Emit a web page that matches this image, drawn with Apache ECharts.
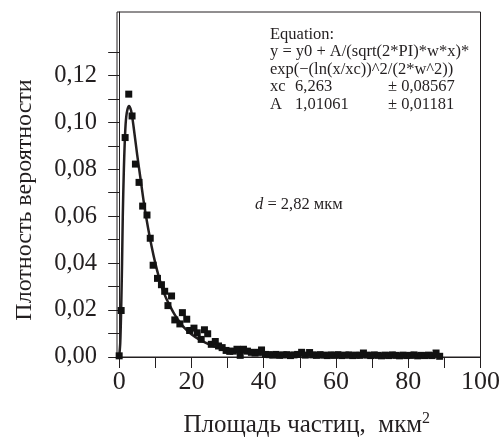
<!DOCTYPE html>
<html>
<head>
<meta charset="utf-8">
<script src="https://cdn.jsdelivr.net/npm/echarts@6/dist/echarts.min.js"></script>
<style>
html,body{margin:0;padding:0;background:#fff;}
#chart{width:503px;height:443px;}
</style>
</head>
<body>
<div id="chart"></div>
<script>
// Measured points (area, probability density)
const pointsX = [0, 0.55, 1.65, 2.65, 3.57, 4.5, 5.5, 6.5, 7.7, 8.6, 9.4, 10.6, 11.7, 12.6, 13.5, 14.5, 15.4, 16.8, 17.5, 18.7,
  19.5, 20.7, 21.6, 22.7, 23.6, 24.5, 25.5, 26.6, 27.5, 28.5, 29.6, 30.6, 31.6, 32.6, 33.5, 34.4, 35.5, 36.6, 37.6, 38.5,
  39.4, 40.5, 41.5, 42.5, 43.4, 44.4, 45.4, 46.4, 47.4, 48.4, 49.4, 50.5, 51.5, 52.7, 53.6, 54.6, 55.6, 56.6, 57.6, 58.6,
  59.6, 60.6, 61.6, 62.6, 63.6, 64.6, 65.6, 66.6, 67.6, 68.6, 69.6, 70.6, 71.6, 72.6, 73.6, 74.6, 75.6, 76.6, 77.6, 78.6,
  79.6, 80.6, 81.6, 82.6, 83.6, 84.6, 85.6, 86.6, 87.7, 88.7];
const pointsY = [0.0005, 0.0198, 0.0935, 0.112, 0.1027, 0.0822, 0.0744, 0.0643, 0.0605, 0.0506, 0.0391, 0.0335, 0.0308, 0.028, 0.0219, 0.026, 0.0158, 0.0141, 0.0189, 0.0161,
  0.0113, 0.0123, 0.0103, 0.0075, 0.0116, 0.0099, 0.0054, 0.0066, 0.0047, 0.004, 0.0028, 0.0024, 0.0025, 0.0033, 0.0007, 0.0033, 0.0025, 0.002, 0.0017, 0.002,
  0.003, 0.0011, 0.0010, 0.0008, 0.0011, 0.0007, 0.0009, 0.0010, 0.0006, 0.0009, 0.0011, 0.0020, 0.0008, 0.0019, 0.0009, 0.0007, 0.0010, 0.0008, 0.0006, 0.0009,
  0.0007, 0.0010, 0.0006, 0.0008, 0.0009, 0.0006, 0.0008, 0.0007, 0.0017, 0.0008, 0.0006, 0.0009, 0.0007, 0.0005, 0.0008, 0.0006, 0.0009, 0.0007, 0.0005, 0.0008,
  0.0006, 0.0007, 0.0009, 0.0005, 0.0007, 0.0006, 0.0008, 0.0006, 0.0017, 0.0003];

// Fitted curve
const curveX = [0, 0.3, 0.55, 0.8, 1.0, 1.3, 1.7, 2.1, 2.7, 3.3, 4, 5, 6, 7, 8, 9, 10, 11, 12, 13, 14, 15, 16, 18, 20, 22, 24, 26, 28, 30, 33, 36, 40, 45, 50, 60, 70, 80, 89];
const curveY = [0, 0.006, 0.02, 0.04, 0.06, 0.08, 0.097, 0.104, 0.107, 0.105, 0.098, 0.086, 0.075, 0.064, 0.055, 0.047, 0.040, 0.034, 0.029, 0.025, 0.022, 0.019, 0.0165, 0.0125, 0.0097, 0.0076, 0.006, 0.0047, 0.0037, 0.003, 0.0022, 0.0016, 0.0011, 0.0008, 0.0006, 0.0004, 0.0003, 0.0003, 0.0003];

const xTicks = [0, 10, 20, 30, 40, 50, 60, 70, 80, 90, 100];
const xLabels = [0, 20, 40, 60, 80, 100];
const yTicks = [0, 0.01, 0.02, 0.03, 0.04, 0.05, 0.06, 0.07, 0.08, 0.09, 0.10, 0.11, 0.12, 0.13];
const yLabels = [0, 0.02, 0.04, 0.06, 0.08, 0.10, 0.12];

const xTitle = 'Площадь частиц,  мкм';
const yTitle = 'Плотность вероятности';
const eqLines = ['Equation:', 'y = y0 + A/(sqrt(2*PI)*w*x)*', 'exp(−(ln(x/xc))^2/(2*w^2))'];
const paramRows = [['xc', '6,263', '± 0,08567'], ['A', '1,01061', '± 0,01181']];

const INK = '#231f20';
const FONT = 'Liberation Serif';
const EQF = '16.5px "' + FONT + '"';

const chart = echarts.init(document.getElementById('chart'), null, {renderer: 'canvas'});

const graphics = [];
eqLines.forEach((t, i) => {
  graphics.push({type: 'text', left: 270, top: 26 + i * 17.5,
    style: {text: t, font: EQF, fill: INK}});
});
paramRows.forEach((r, i) => {
  const top = 26 + (i + 3) * 17.5;
  graphics.push({type: 'text', left: 270, top: top, style: {text: r[0], font: EQF, fill: INK}});
  graphics.push({type: 'text', left: 295, top: top, style: {text: r[1], font: EQF, fill: INK}});
  graphics.push({type: 'text', left: 388, top: top, style: {text: r[2], font: EQF, fill: INK}});
});
graphics.push({type: 'text', left: 255, top: 196, style: {
  text: '{i|d} = 2,82 мкм',
  rich: {i: {fontStyle: 'italic', fontFamily: FONT, fontSize: 16.5, fill: INK, color: INK}},
  font: EQF, fill: INK}});
graphics.push({type: 'text', x: 25, y: 200, rotation: Math.PI / 2, style: {
  text: yTitle, font: '24px "' + FONT + '"', fill: INK, align: 'center', verticalAlign: 'middle'}});

chart.setOption({
  animation: false,
  backgroundColor: '#fff',
  grid: {left: 117, right: 20, top: 12, bottom: 83, show: true, borderColor: INK, borderWidth: 1, backgroundColor: 'transparent'},
  xAxis: {
    type: 'value', min: -0.6, max: 100,
    axisLine: {show: true, onZero: false, lineStyle: {color: INK, width: 1}},
    axisTick: {show: true, inside: false, length: 11, customValues: xTicks, lineStyle: {color: INK}},
    axisLabel: {show: true, customValues: xLabels, margin: 12, fontFamily: FONT, fontSize: 26, color: INK},
    splitLine: {show: false},
    name: xTitle + '{s|2}', nameLocation: 'middle', nameGap: 54,
    nameTextStyle: {fontFamily: FONT, fontSize: 25, color: INK, padding: [0, 0, 0, 16],
      rich: {s: {fontFamily: FONT, fontSize: 16, color: INK, padding: [0, 0, 13, 0]}}}
  },
  yAxis: {
    type: 'value', min: 0, max: 0.147,
    axisLine: {show: true, lineStyle: {color: INK, width: 1}},
    axisTick: {show: true, inside: false, length: 11, customValues: yTicks, lineStyle: {color: INK}},
    axisLabel: {show: true, customValues: yLabels, margin: 20, fontFamily: FONT, fontSize: 24.5, color: INK,
      formatter: v => v.toFixed(2).replace('.', ',')},
    splitLine: {show: false}
  },
  graphic: graphics,
  series: [
    {type: 'line', data: curveX.map((x, i) => [x, curveY[i]]), smooth: 0.3, showSymbol: false,
      lineStyle: {color: INK, width: 2.5}, z: 2},
    {type: 'scatter', data: pointsX.map((x, i) => [x, pointsY[i]]), symbol: 'rect', symbolSize: 7,
      itemStyle: {color: '#111', opacity: 1}, z: 3, clip: false}
  ]
});
</script>
</body>
</html>
